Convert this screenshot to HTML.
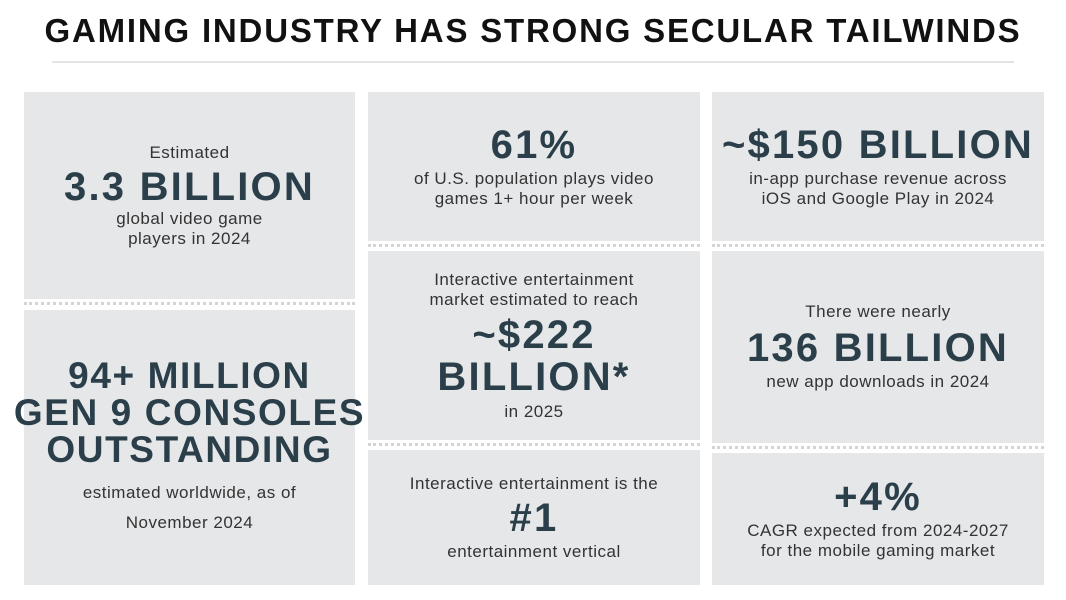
<!DOCTYPE html>
<html><head><meta charset="utf-8"><style>
body{margin:0;width:1066px;height:600px;background:#fff;position:relative;overflow:hidden;font-family:"Liberation Sans",sans-serif}
.title{position:absolute;left:0;width:1066px;top:12px;text-align:center;font-weight:bold;font-size:33px;letter-spacing:1.8px;color:#111;white-space:nowrap}
.rule{position:absolute;left:52px;width:962px;top:61px;height:2px;background:#e4e4e4}
.card{position:absolute;background:#e6e7e9;display:flex;flex-direction:column;justify-content:center;align-items:center;text-align:center;color:#333;font-size:17px;line-height:20px;letter-spacing:.5px}
.big{font-weight:bold;color:#2b3f4a;font-size:40px;line-height:40px;letter-spacing:2.2px;white-space:nowrap}
.dot{position:absolute;height:0;border-top:3px dotted #d2d4d6}
</style></head><body>
<div class="title">GAMING INDUSTRY HAS STRONG SECULAR TAILWINDS</div>
<div class="rule"></div>

<div class="card" style="left:24px;top:92px;width:331px;height:207px"><div>Estimated</div><div class="big" style="margin:4px 0 2px">3.3 BILLION</div><div>global video game<br>players in 2024</div></div>
<div class="dot" style="left:24px;width:331px;top:302px"></div>
<div class="card" style="left:24px;top:310px;width:331px;height:275px"><div class="big" style="line-height:37px;font-size:37px;letter-spacing:1.6px"><div>94+ MILLION</div><div>GEN 9 CONSOLES</div><div>OUTSTANDING</div></div><div style="margin-top:10px;line-height:30px">estimated worldwide, as of<br>November 2024</div></div>

<div class="card" style="left:368px;top:92px;width:332px;height:149px"><div class="big">61%</div><div style="margin-top:4px">of U.S. population plays video<br>games 1+ hour per week</div></div>
<div class="dot" style="left:368px;width:332px;top:244px"></div>
<div class="card" style="left:368px;top:251px;width:332px;height:189px"><div>Interactive entertainment<br>market estimated to reach</div><div class="big" style="margin:4px 0;line-height:42px">~$222<br>BILLION*</div><div>in 2025</div></div>
<div class="dot" style="left:368px;width:332px;top:443px"></div>
<div class="card" style="left:368px;top:450px;width:332px;height:135px"><div>Interactive entertainment is the</div><div class="big" style="margin:4px 0">#1</div><div>entertainment vertical</div></div>

<div class="card" style="left:712px;top:92px;width:332px;height:149px"><div class="big">~$150 BILLION</div><div style="margin-top:4px">in-app purchase revenue across<br>iOS and Google Play in 2024</div></div>
<div class="dot" style="left:712px;width:332px;top:244px"></div>
<div class="card" style="left:712px;top:251px;width:332px;height:192px"><div>There were nearly</div><div class="big" style="margin:6px 0 4px">136 BILLION</div><div>new app downloads in 2024</div></div>
<div class="dot" style="left:712px;width:332px;top:446px"></div>
<div class="card" style="left:712px;top:453px;width:332px;height:132px"><div class="big">+4%</div><div style="margin-top:4px">CAGR expected from 2024-2027<br>for the mobile gaming market</div></div>
</body></html>
